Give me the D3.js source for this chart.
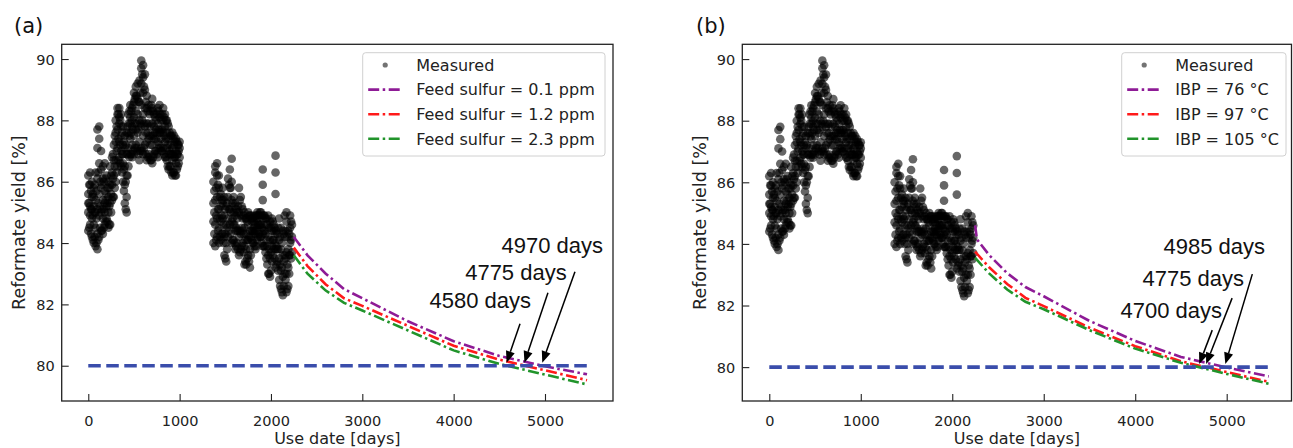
<!DOCTYPE html>
<html><head><meta charset="utf-8">
<script src="https://cdn.jsdelivr.net/npm/d3@7"></script>
<style>
html,body{margin:0;padding:0;background:#fff;}
svg{display:block;}
</style></head><body>
<svg id="chart" width="1293" height="448"></svg>
<script>
// ---------------- DATA ----------------
const measuredDays = [0,10,20,30,40,50,60,70,80,90,100,110,120,130,140,150,160,170,180,190,200,210,220,230,240,250,260,270,280,290,300,310,320,330,340,350,360,370,380,390,400,410,420,430,440,450,460,470,480,490,500,510,520,530,540,550,560,570,580,590,600,610,620,630,640,650,660,670,680,690,700,710,720,730,740,750,760,770,780,790,800,810,820,830,840,850,860,870,880,890,900,910,920,930,940,950,960,970,980,990,1000,
  1370,1380,1390,1400,1410,1420,1430,1440,1450,1460,1470,1480,1490,1500,1510,1520,1530,1540,1550,1560,1570,1580,1590,1600,1610,1620,1630,1640,1650,1660,1670,1680,1690,1700,1710,1720,1730,1740,1750,1760,1770,1780,1790,1800,1810,1820,1830,1840,1850,1860,1870,1880,1890,1900,1910,1920,1930,1940,1950,1960,1970,1980,1990,2000,2010,2020,2030,2040,2050,2060,2070,2080,2090,2100,2110,2120,2130,2140,2150,2160,2170,2180,2190,2200,2210,2220,2230];
const measuredYield = [
  [84.4,85.0,85.6,86.2,85.3],[84.5,85.3,85.9],[84.6,85.2,85.9,86.3,84.9],[84.3,85.1,85.7],[84.2,84.8,85.5,86.0,85.1],[84.1,84.9,85.6],
  [84.0,84.6,85.2,85.8,85.5],[84.2,85.0,85.9],[83.9,84.5,85.4,86.3,85.0],[84.0,84.8,85.7],
  [83.8,84.3,85.1,86.1,87.7,87.1],[84.1,85.3,86.3],[84.2,84.9,85.6,86.6,87.8,87.4],[84.5,85.2,86.0],[84.4,85.0,85.8,86.4,87.0],[84.4,85.1,85.9],
  [84.3,84.8,85.4,86.1,86.5],[84.5,85.1,86.0],[84.6,85.3,85.7,86.6,85.0],[84.7,85.4,86.1],
  [84.8,85.2,85.6,86.2],[84.7,85.3,85.8],[84.5,85.0,85.5,86.0],[84.6,85.2,85.8],[84.6,85.3,85.9,86.5],[85.0,85.6,86.2],
  [85.4,85.9,86.3,86.8],[85.5,86.1,86.9],[85.5,86.2,86.7,87.2],[85.8,86.5,87.5],
  [86.0,86.7,87.3,88.0,87.6],[86.3,87.0,87.8],[86.5,87.1,87.7,88.4,88.2],[86.7,87.4,88.2],[86.8,87.3,87.9,88.4,88.1],[86.6,87.2,88.0],
  [86.5,87.0,87.5,88.2,87.8],[86.3,86.9,87.6],[86.0,86.6,87.2,87.8,86.9],[85.7,86.4,87.3],
  [85.3,85.9,86.5,87.1,87.5],[85.1,86.0,87.2],[85.0,85.5,86.2,86.9,87.6],[86.2,86.9,87.8],[86.5,87.1,87.6,88.2,87.9],[86.8,87.5,88.3],
  [86.9,87.4,87.9,88.5,88.1],[86.9,87.6,88.3],[86.8,87.2,87.8,88.4,88.0],[87.0,87.7,88.5],
  [86.9,87.5,88.1,88.6,88.9],[87.1,87.9,88.7],[87.2,87.7,88.3,88.8,89.1],[87.1,87.9,88.8],[87.0,87.6,88.2,88.7,89.2],[86.9,87.7,88.6],
  [86.7,87.3,88.0,88.6,89.3],[87.0,87.9,88.9],[87.1,87.8,88.5,89.2,89.95,89.7],[87.0,88.0,89.5],
  [86.9,87.5,88.2,88.9,89.8,89.4],[87.1,87.9,89.1],[87.2,87.8,88.4,89.0,89.5],[86.9,87.6,88.6],[86.7,87.3,87.9,88.4,88.8],[86.8,87.6,88.3],
  [86.9,87.4,87.9,88.5],[86.8,87.5,88.2],[86.7,87.2,87.8,88.3],[86.7,87.5,88.5],
  [86.6,87.2,87.9,88.4,88.7],[86.8,87.5,88.3],[86.9,87.4,87.8,88.2],[87.0,87.6,88.1],[87.0,87.4,87.7,88.0],[86.9,87.6,88.2],
  [86.8,87.3,87.9,88.4],[87.1,87.7,88.3],[87.2,87.6,88.1,88.5],[87.1,87.6,88.2],
  [87.0,87.4,87.7,88.0],[87.0,87.7,88.2],[87.1,87.6,88.0,88.4],[86.9,87.5,88.1],[86.8,87.3,87.8,88.2],[86.8,87.4,88.0],
  [86.7,87.1,87.6,88.0],[86.5,87.2,87.9],[86.4,86.9,87.4,87.8],[86.5,87.0,87.6],
  [86.5,86.9,87.2,87.5],[86.3,86.9,87.5],[86.2,86.7,87.1,87.6],[86.3,86.9,87.4],[86.3,86.8,87.2,87.5],[86.2,86.8,87.3],
  [86.2,86.6,87.0,87.4],[86.4,86.9,87.3],[86.5,86.9,87.2],[86.6,87.0,87.2],[86.8,87.1,87.3],
  [84.0,84.7,85.3,86.0],[84.3,85.0,85.7],[83.9,84.6,85.4,86.3,86.5],[84.1,84.9,85.8],[84.2,84.8,85.5,86.2,86.6],[84.4,85.1,85.9],
  [84.0,84.5,85.1,85.8,86.2],[84.2,84.8,85.5],[84.1,84.7,85.2,85.6],[84.3,84.9,85.4],
  [84.3,84.8,85.3,85.8],[84.0,84.6,85.4],[83.6,84.2,84.9,85.5],[83.5,84.3,85.1],[83.4,84.0,84.6,85.2],[83.8,84.5,85.3],
  [84.2,84.8,85.5,86.1],[84.4,85.1,85.9],[84.6,85.1,85.8,86.4],[84.3,85.0,85.8],
  [84.0,84.7,85.4,86.0,86.75],[84.1,84.8,85.3],[84.1,84.6,85.0,85.5],[84.0,84.6,85.2],[83.8,84.4,84.9,85.3],[83.9,84.5,85.1],
  [84.0,84.4,84.8,85.0],[83.8,84.4,85.2],[83.6,84.2,85.0,85.8],[83.7,84.4,85.4],
  [83.8,84.3,84.9,85.5],[83.9,84.5,85.2],[84.0,84.4,84.8,85.1],[83.7,84.3,84.9],[83.3,83.9,84.5,85.0],[83.4,84.1,84.8],
  [83.3,83.8,84.3,84.8],[83.5,84.1,84.7],[83.6,84.1,84.6,85.0],[83.4,84.2,84.9],
  [83.2,83.8,84.4,84.9],[83.6,84.2,84.8],[84.1,84.4,84.7,84.9],[84.0,84.4,84.8],[84.0,84.3,84.5,84.7],[83.9,84.4,84.8],
  [83.8,84.3,84.6,84.9],[83.9,84.4,84.9],[84.1,84.5,84.8,85.0],[84.2,84.6,84.9],
  [84.3,84.6,84.9],[84.2,84.6,85.0],[84.2,84.6,85.0],[84.0,84.5,84.9],[83.9,84.3,84.8,86.4,85.9,85.4],[83.9,84.4,84.9],
  [83.9,84.4,84.9],[83.7,84.3,84.8],[83.5,84.1,84.6,84.8],[83.3,83.9,84.6],
  [83.0,83.6,84.2,84.9],[83.0,83.8,84.5],[82.9,83.5,84.1,84.7],[83.1,83.7,84.5],[83.4,83.9,84.4,84.8],[83.6,84.1,84.7],
  [83.8,84.1,84.4,84.6],[83.5,84.0,84.5],[83.2,83.8,84.3,86.85,86.3,85.6],[83.3,83.9,84.4],
  [83.4,83.8,84.3],[83.1,83.8,84.5],[82.8,83.5,84.1,84.8],[82.6,83.3,84.2],[82.5,83.1,83.8,84.5],[82.4,83.2,84.0],
  [82.3,82.9,83.6,84.4],[82.6,83.4,84.3],[83.0,83.6,84.2,84.9],[82.8,83.5,84.4],
  [82.4,83.0,83.7,84.7,85.0],[82.5,83.3,84.2],[82.6,83.2,83.8,84.4],[83.0,83.6,84.3],[83.6,84.0,84.5,84.9],[83.5,84.1,84.7],[83.7,84.2,84.6]
];

// Panel (a): feed sulfur
const predDaysA = [2250,2400,2600,2800,3000,3500,4000,4500,5000,5460];
const sulfur01 = [84.2,83.6,83.0,82.5,82.2,81.45,80.8,80.32,79.98,79.72];
const sulfur12 = [83.85,83.25,82.65,82.2,81.95,81.3,80.65,80.2,79.85,79.53];
const sulfur23 = [83.6,83.0,82.45,82.05,81.8,81.15,80.5,80.06,79.71,79.39];
const labelsA = ["Feed sulfur = 0.1 ppm","Feed sulfur = 1.2 ppm","Feed sulfur = 2.3 ppm"];
const annotDaysA = [4580,4775,4970];

// Panel (b): IBP
const predDaysB = [2250,2270,2400,2600,2800,3000,3500,4000,4500,5000,5460];
const ibp76 = [84.6,84.15,83.65,83.05,82.6,82.3,81.5,80.85,80.33,79.99,79.7];
const ibp97 = [83.75,83.68,83.25,82.7,82.25,81.98,81.28,80.68,80.19,79.84,79.52];
const ibp105 = [83.55,83.48,83.05,82.52,82.12,81.88,81.2,80.6,80.14,79.78,79.46];
const labelsB = ["IBP = 76 \u00B0C","IBP = 97 \u00B0C","IBP = 105 \u00B0C"];
const annotDaysB = [4700,4775,4985];

const limitDays = [0,5460];
const limitYield = 80;
const xTicks = [0,1000,2000,3000,4000,5000];
const yTicks = [80,82,84,86,88,90];
const seriesColors = ["#8e1b96","#ff1a1a","#21942b"];

// ---------------- DRAW ----------------
const svg = d3.select("#chart");
const MPL = "DejaVu Sans, sans-serif";

const panels = [
  {tag:"(a)", tagX:14, left:61.7, right:613, top:44.3, bottom:401, xDomain:[-291,5744.5], yDomain:[78.85,90.48],
   days:predDaysA, series:[sulfur01,sulfur12,sulfur23], labels:labelsA, annot:annotDaysA, ylabX:18.5,
   legend:{x:362.7,y:52.7,w:242.3,h:103.3},
   annotLayout:[{tx:531,ty:308,dx:13.4,dy:-39},{tx:566.7,ty:280,dx:23.5,dy:-70},{tx:603,ty:253,dx:32.7,dy:-91}]},
  {tag:"(b)", tagX:696, left:742.3, right:1291.5, top:44.3, bottom:401, xDomain:[-295.1,5708.4], yDomain:[78.9,90.48],
   days:predDaysB, series:[ibp76,ibp97,ibp105], labels:labelsB, annot:annotDaysB, ylabX:699.5,
   legend:{x:1121.7,y:52.7,w:164.3,h:103.3},
   annotLayout:[{tx:1222,ty:318,dx:13,dy:-34},{tx:1244,ty:286,dx:26,dy:-66},{tx:1265,ty:254,dx:27,dy:-90}]}
];

const points = [];
measuredDays.forEach((d,i)=>measuredYield[i].forEach(v=>points.push([d,v])));

panels.forEach(p=>{
  const g = svg.append("g");
  const x = d3.scaleLinear().domain(p.xDomain).range([p.left,p.right]);
  const y = d3.scaleLinear().domain(p.yDomain).range([p.bottom,p.top]);

  // panel tag
  g.append("text").attr("x",p.tagX).attr("y",33).attr("font-size",21).attr("fill","#111")
    .style("font-family",MPL).text(p.tag);

  // scatter
  g.append("g").selectAll("circle").data(points).join("circle")
    .attr("cx",d=>x(d[0])).attr("cy",d=>y(d[1])).attr("r",4.3)
    .attr("fill","#000").attr("fill-opacity",0.6);

  // prediction lines
  const line = d3.line().x(d=>x(d[0])).y(d=>y(d[1]));
  p.series.forEach((s,i)=>{
    g.append("path").attr("d",line(p.days.map((d,j)=>[d,s[j]])))
      .attr("fill","none").attr("stroke",seriesColors[i]).attr("stroke-width",2.6)
      .attr("stroke-dasharray","11,3.5,2.5,3.5");
  });

  // limit line
  g.append("path").attr("d",line(limitDays.map(d=>[d,limitYield])))
    .attr("fill","none").attr("stroke","#3a4dab").attr("stroke-width",3.6)
    .attr("stroke-dasharray","12.5,5.5");

  // axes
  const ax = g.append("g").attr("transform",`translate(0,${p.bottom})`)
    .call(d3.axisBottom(x).tickValues(xTicks).tickFormat(d3.format("d")).tickSizeInner(-7).tickSizeOuter(0).tickPadding(9));
  const ay = g.append("g").attr("transform",`translate(${p.left},0)`)
    .call(d3.axisLeft(y).tickValues(yTicks).tickFormat(d3.format("d")).tickSizeInner(-7).tickSizeOuter(0).tickPadding(7));
  [ax,ay].forEach(a=>{
    a.select(".domain").remove();
    a.selectAll(".tick line").attr("stroke","#222").attr("stroke-width",1.1);
    a.selectAll(".tick text").attr("font-size",14.5).attr("fill","#222").style("font-family",MPL);
  });
  ax.selectAll(".tick text").attr("y",25).attr("dy",null);
  ay.selectAll(".tick text").attr("dy","0.36em");
  g.append("rect").attr("x",p.left).attr("y",p.top).attr("width",p.right-p.left).attr("height",p.bottom-p.top)
    .attr("fill","none").attr("stroke","#222").attr("stroke-width",1.3);

  // axis labels
  g.append("text").attr("x",(p.left+p.right)/2).attr("y",444.2).attr("text-anchor","middle")
    .attr("font-size",16).attr("fill","#222").style("font-family",MPL).text("Use date [days]");
  g.append("text").attr("transform",`translate(${p.ylabX},${(p.top+p.bottom)/2}) rotate(-90)`)
    .attr("text-anchor","middle").attr("dy","0.35em").attr("font-size",17.5).attr("fill","#222")
    .style("font-family",MPL).text("Reformate yield [%]");

  // legend
  const L = p.legend;
  const lg = g.append("g");
  lg.append("rect").attr("x",L.x).attr("y",L.y).attr("width",L.w).attr("height",L.h).attr("rx",3)
    .attr("fill","#fff").attr("fill-opacity",0.85).attr("stroke","#d0d0d0").attr("stroke-width",1);
  const rowY = i=>L.y+12.3+i*24.6;
  const hx0 = L.x+5.5, hx1 = L.x+39.5, tx = L.x+53.5;
  lg.append("circle").attr("cx",(hx0+hx1)/2).attr("cy",rowY(0)).attr("r",2.6).attr("fill","#000").attr("fill-opacity",0.55);
  const lt = [lg.append("text").attr("x",tx).attr("y",rowY(0)).text("Measured")];
  p.labels.forEach((lab,i)=>{
    lg.append("line").attr("x1",hx0).attr("x2",hx1).attr("y1",rowY(i+1)).attr("y2",rowY(i+1))
      .attr("stroke",seriesColors[i]).attr("stroke-width",2.6).attr("stroke-dasharray","11,3.5,2.5,3.5");
    lt.push(lg.append("text").attr("x",tx).attr("y",rowY(i+1)).text(lab));
  });
  lt.forEach(t=>t.attr("dy","0.36em").attr("font-size",16).attr("fill","#222").style("font-family",MPL));

  // annotations
  p.annot.forEach((d,i)=>{
    const a = p.annotLayout[i];
    const tipX = x(d), tipY = y(limitYield)-3;
    const tailX = tipX+a.dx, tailY = tipY+a.dy;
    const ang = Math.atan2(tipY-tailY, tipX-tailX);
    const hl = 11.5, hw = 4.6;
    const bx = tipX-hl*Math.cos(ang), by = tipY-hl*Math.sin(ang);
    g.append("line").attr("x1",tailX).attr("y1",tailY).attr("x2",bx).attr("y2",by)
      .attr("stroke","#000").attr("stroke-width",1.5);
    g.append("polygon").attr("points",[
      [tipX,tipY],
      [bx+hw*Math.sin(ang), by-hw*Math.cos(ang)],
      [bx-hw*Math.sin(ang), by+hw*Math.cos(ang)]
    ].map(q=>q.join(",")).join(" ")).attr("fill","#000");
    g.append("text").attr("x",a.tx).attr("y",a.ty).attr("text-anchor","end")
      .style("font-family","Liberation Sans, Arial, sans-serif").attr("font-size",22).attr("fill","#111")
      .text(`${d} days`);
  });
});
</script>
</body></html>
